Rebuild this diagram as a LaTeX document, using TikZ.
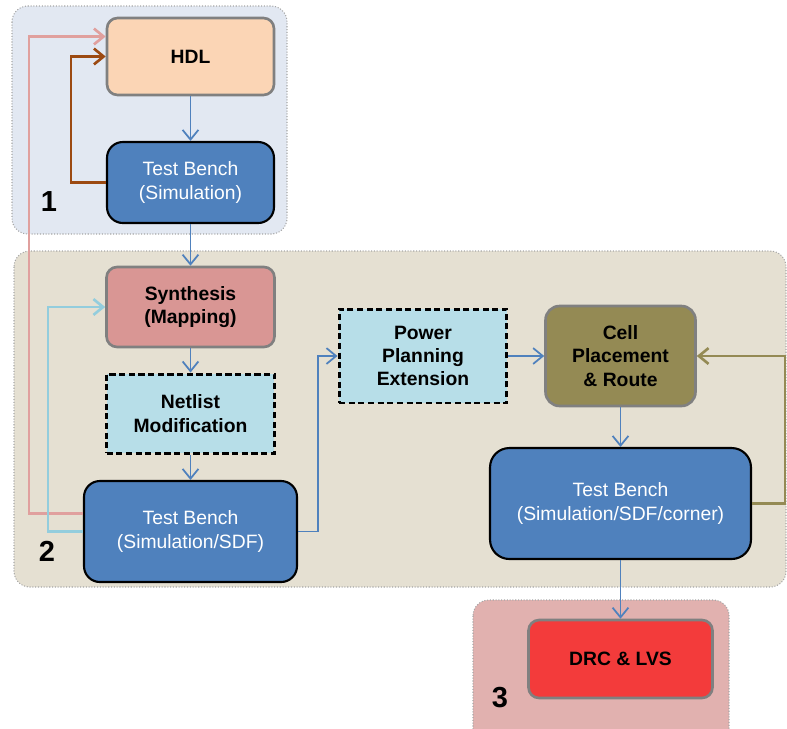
\documentclass[tikz,border=0pt]{standalone}
\usepackage{fontspec}
\setmainfont{Liberation Sans}
\usepackage{tikz}
\usetikzlibrary{arrows.meta}
\usetikzlibrary{calc}
\definecolor{stagea}{HTML}{E2E8F2}
\definecolor{stageb}{HTML}{E5E0D2}
\definecolor{stagec}{HTML}{E1B1AF}
\definecolor{hdlfill}{HTML}{FBD5B5}
\definecolor{synfill}{HTML}{D99694}
\definecolor{modfill}{HTML}{B7DEE8}
\definecolor{cellfill}{HTML}{948A54}
\definecolor{tbfill}{HTML}{4F81BD}
\definecolor{drcfill}{HTML}{F33B3B}
\definecolor{pinkline}{HTML}{E0A09E}
\definecolor{brownline}{HTML}{9C4A12}
\definecolor{cyanline}{HTML}{93CDDD}
\tikzset{
every picture/.style={x=0.02cm, y=-0.02cm, >={Straight Barb[length=5.5pt,width=9pt]}},
%%%%%%%%%%  Node styles
stage/.style={fill=#1, draw=black!35, densely dotted, line width=0.6pt, rounded corners=9pt},
stagenum/.style={font=\fontsize{16.5}{18}\selectfont\bfseries},
stepbox/.style={draw=black!50, line width=1.5pt, rounded corners=6pt, align=center,
                font=\fontsize{11}{13.2}\selectfont\bfseries, inner sep=2pt},
bench/.style={draw=black, fill=tbfill, line width=1.2pt, rounded corners=9pt, align=center,
              text=white, font=\fontsize{11}{13.2}\selectfont, inner sep=2pt},
modbox/.style={draw=black, fill=modfill, line width=1.7pt, dash pattern=on 3.5pt off 2pt,
               align=center, font=\fontsize{11}{13.2}\selectfont\bfseries, inner sep=2pt},
%%%% different line styles:
flow/.style={->, draw=tbfill, line width=1pt},
loopback/.style={->, draw=#1, line width=1.5pt}
}
\begin{document}
\begin{tikzpicture}
\clip (0,0) rectangle (787,728);
%%%%%%% stages
\draw[stage=stagea] (12,6) rectangle (287,234);
\draw[stage=stageb] (14,251) rectangle (786,587);
\draw[stage=stagec] (473,600) rectangle (729,745);
\node[stagenum] (n1) at (49,202) {1};
\node[stagenum] (n2) at (47,551) {2};
\node[stagenum] (n3) at (500,698) {3};
%%%%%%% blocks
\node[stepbox, fill=hdlfill, minimum width=33.4mm, minimum height=15.4mm] (hdl) at (190.5,56.5) {HDL};
\node[bench, minimum width=33.4mm, minimum height=16.2mm] (tbsim) at (190.5,182.5) {Test Bench\\(Simulation)};
\node[stepbox, fill=synfill, minimum width=33.6mm, minimum height=16mm] (syn) at (190.5,307) {Synthesis\\(Mapping)};
\node[modbox, minimum width=33.6mm, minimum height=15.8mm] (netlist) at (190.5,413.5) {Netlist\\Modification};
\node[bench, minimum width=42.6mm, minimum height=20.2mm] (tbsdf) at (190.5,531.5) {Test Bench\\(Simulation/SDF)};
\node[modbox, minimum width=33.6mm, minimum height=18.8mm] (power) at (423,356) {Power\\Planning\\Extension};
\node[stepbox, fill=cellfill, minimum width=30mm, minimum height=20mm, rounded corners=8pt] (cell) at (620.5,356) {Cell\\Placement\\\& Route};
\node[bench, minimum width=52.2mm, minimum height=22.2mm, rounded corners=11pt] (tbcorner) at (620.5,503.5) {Test Bench\\(Simulation/SDF/corner)};
\node[stepbox, fill=drcfill, minimum width=36.8mm, minimum height=15.6mm] (drc) at (620.5,659) {DRC \& LVS};
%%%%%%% main flow
\draw[flow] (hdl) -- (tbsim);
\draw[flow] (tbsim) -- (syn);
\draw[flow] (syn) -- (netlist);
\draw[flow] (netlist) -- (tbsdf);
\draw[flow] (tbsdf.east) -- ++(20,0) |- (power.west);
\draw[flow] (power) -- (cell);
\draw[flow] (cell) -- (tbcorner);
\draw[flow] (tbcorner) -- (drc);
%%%%%%% feedback loops
\draw[loopback=brownline] (tbsim.west) -- ++(-35,0) |- (hdl.west);
\draw[loopback=pinkline] ($(tbsdf.west)+(0,-18)$) -- ++(-54,0) |- ($(hdl.west)+(0,-20)$);
\draw[loopback=cyanline] (tbsdf.west) -- ++(-35,0) |- (syn.west);
\draw[loopback=cellfill] (tbcorner.east) -- ++(33,0) |- (cell.east);
\end{tikzpicture}
\end{document}
